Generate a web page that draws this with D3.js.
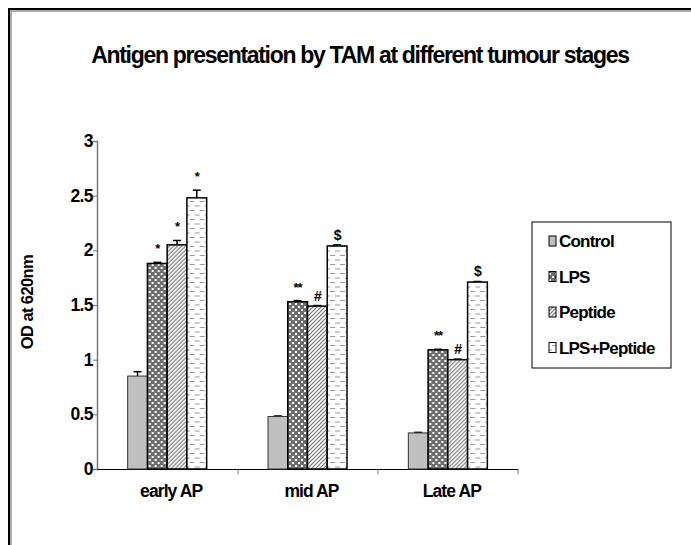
<!DOCTYPE html>
<html>
<head>
<meta charset="utf-8">
<script src="https://cdn.jsdelivr.net/npm/d3@7"></script>
<style>
  body { margin: 0; background: #fff; }
  svg text { font-family: "Liberation Sans", Arial, sans-serif; font-weight: bold; fill: #000; }
</style>
</head>
<body>
<div id="chart"></div>
<script>
// data
const stages = ["early AP", "mid AP", "Late AP"];
const groups = ["Control", "LPS", "Peptide", "LPS+Peptide"];
const control = [0.85, 0.48, 0.33];
const lps = [1.88, 1.53, 1.09];
const peptide = [2.05, 1.49, 1.00];
const lpsPeptide = [2.48, 2.04, 1.71];
const controlErr = [0.04, 0.005, 0.005];
const lpsErr = [0.01, 0.01, 0.005];
const peptideErr = [0.04, 0.005, 0.005];
const lpsPeptideErr = [0.07, 0.01, 0.005];
const marks = [["", "*", "*", "*"], ["", "**", "#", "$"], ["", "**", "#", "$"]];
const yTicks = [0, 0.5, 1, 1.5, 2, 2.5, 3];

const series = [control, lps, peptide, lpsPeptide];
const errs = [controlErr, lpsErr, peptideErr, lpsPeptideErr];

const width = 691, height = 545;
const svg = d3.select("#chart").append("svg")
    .attr("width", width)
    .attr("height", height);

// patterns for the four fills
const defs = svg.append("defs");
const p1 = defs.append("pattern").attr("id", "dots")
    .attr("width", 6).attr("height", 6).attr("patternUnits", "userSpaceOnUse");
p1.append("rect").attr("width", 6).attr("height", 6).attr("fill", "#6e6e6e");
p1.append("rect").attr("x", 0).attr("y", 0).attr("width", 2).attr("height", 2).attr("fill", "#fff");
p1.append("rect").attr("x", 3).attr("y", 3).attr("width", 2).attr("height", 2).attr("fill", "#fff");

const p2 = defs.append("pattern").attr("id", "hatch")
    .attr("width", 4).attr("height", 4).attr("patternUnits", "userSpaceOnUse");
p2.append("rect").attr("width", 4).attr("height", 4).attr("fill", "#fff");
p2.append("path").attr("d", "M-1,1 l2,-2 M0,4 l4,-4 M3,5 l2,-2")
    .attr("stroke", "#777").attr("stroke-width", 1.2);

const p3 = defs.append("pattern").attr("id", "dash")
    .attr("width", 10).attr("height", 9).attr("patternUnits", "userSpaceOnUse");
p3.append("rect").attr("width", 10).attr("height", 9).attr("fill", "#fff");
p3.append("line").attr("x1", 2).attr("x2", 7).attr("y1", 3.5).attr("y2", 3.5)
    .attr("stroke", "#999").attr("stroke-width", 1);
p3.append("line").attr("x1", 7).attr("x2", 12).attr("y1", 8).attr("y2", 8)
    .attr("stroke", "#999").attr("stroke-width", 1);
p3.append("line").attr("x1", -3).attr("x2", 2).attr("y1", 8).attr("y2", 8)
    .attr("stroke", "#999").attr("stroke-width", 1);

const fills = ["#c0c0c0", "url(#dots)", "url(#hatch)", "url(#dash)"];

// outer frame
svg.append("path").attr("d", "M11,547 V11 H693").attr("fill", "none").attr("stroke", "#aaa").attr("stroke-width", 2);
svg.append("path").attr("d", "M9,547 V9 H693").attr("fill", "none").attr("stroke", "#000").attr("stroke-width", 2);

svg.append("text")
    .attr("x", 360).attr("y", 63)
    .attr("text-anchor", "middle")
    .attr("font-size", 23)
    .attr("letter-spacing", -1.3)
    .text("Antigen presentation by TAM at different tumour stages");

const x0 = d3.scaleBand().domain(stages).range([97, 518]);
const x1 = d3.scaleBand().domain(groups).range([0, 79]);
const y = d3.scaleLinear().domain([0, 3]).range([469, 141]);

// y axis
const yAxis = svg.append("g").attr("transform", "translate(97,0)")
    .call(d3.axisLeft(y).tickValues(yTicks).tickSize(4).tickFormat(d3.format("")));
yAxis.select(".domain").attr("stroke", "#777").attr("stroke-width", 1.5);
yAxis.selectAll(".tick line").attr("stroke", "#777");
yAxis.selectAll("text").attr("font-size", 17.5).attr("letter-spacing", -0.6)
    .attr("font-family", "Liberation Sans, Arial, sans-serif").attr("font-weight", "bold").attr("x", -4);

// x axis
const xAxis = svg.append("g").attr("transform", "translate(0,469)")
    .call(d3.axisBottom(x0).tickSize(0).tickSizeOuter(0));
xAxis.select(".domain").attr("stroke", "#000").attr("stroke-width", 1);
xAxis.selectAll(".tick text")
    .attr("font-size", 17.5).attr("letter-spacing", -0.9).attr("dy", 25).attr("dx", 4)
    .attr("font-family", "Liberation Sans, Arial, sans-serif").attr("font-weight", "bold");
[238, 378, 518].forEach(v => {
    xAxis.append("line").attr("x1", v).attr("x2", v).attr("y1", 0).attr("y2", 5)
        .attr("stroke", "#777");
});

svg.append("text")
    .attr("transform", "translate(33,302) rotate(-90)")
    .attr("text-anchor", "middle")
    .attr("font-size", 16.5)
    .attr("letter-spacing", -0.6)
    .text("OD at 620nm");

// bars
const offset = (x0.bandwidth() - 79) / 2;
stages.forEach((s, i) => {
    const g = svg.append("g").attr("transform", `translate(${x0(s) + offset},0)`);
    groups.forEach((grp, j) => {
        const v = series[j][i], e = errs[j][i];
        const bx = x1(grp), bw = x1.bandwidth();
        // error bar
        g.append("line").attr("x1", bx + bw / 2).attr("x2", bx + bw / 2)
            .attr("y1", y(v)).attr("y2", y(v + e)).attr("stroke", "#000").attr("stroke-width", 1.5);
        g.append("line").attr("x1", bx + bw / 2 - 4).attr("x2", bx + bw / 2 + 4)
            .attr("y1", y(v + e)).attr("y2", y(v + e)).attr("stroke", "#000").attr("stroke-width", 1.5);
        g.append("rect")
            .attr("x", bx).attr("y", y(v))
            .attr("width", bw).attr("height", y(0) - y(v))
            .attr("fill", fills[j])
            .attr("stroke", j === 0 ? "#333" : "#000")
            .attr("stroke-width", j === 0 ? 1 : 1.5);
        if (marks[i][j]) {
            const big = marks[i][j] === "$" || marks[i][j] === "#";
            g.append("text")
                .attr("x", bx + bw / 2)
                .attr("y", y(v + e) - (big ? 5 : 9))
                .attr("text-anchor", "middle")
                .attr("font-size", big ? 14 : 13)
                .attr("letter-spacing", -1)
                .attr("fill", "#333")
                .text(marks[i][j]);
        }
    });
});

// legend
const lg = svg.append("g");
lg.append("rect").attr("x", 532).attr("y", 222).attr("width", 139).attr("height", 146)
    .attr("fill", "#fff").attr("stroke", "#000").attr("stroke-width", 1);
groups.forEach((grp, j) => {
    const ly = 241 + j * 35.5;
    lg.append("rect").attr("x", 549).attr("y", ly - 5).attr("width", 7).attr("height", 10)
        .attr("fill", fills[j]).attr("stroke", "#000").attr("stroke-width", 1);
    lg.append("text").attr("x", 559).attr("y", ly + 6)
        .attr("font-size", 17).attr("letter-spacing", -0.8)
        .text(grp);
});
</script>
</body>
</html>
